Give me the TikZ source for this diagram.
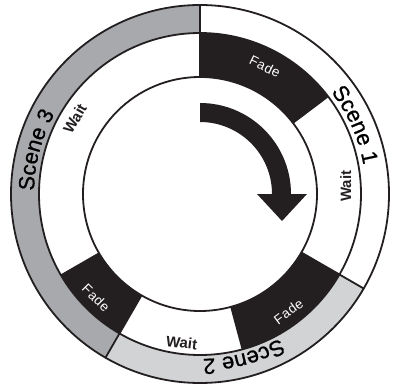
\documentclass[tikz,border=0pt]{standalone}
\usepackage{fontspec}
\setmainfont{Liberation Sans}
\newfontfamily\fadefont[LetterSpace=4]{Liberation Sans}
\newfontfamily\scenefont[FakeBold=0.8]{Liberation Sans}
\usetikzlibrary{decorations.text}
\definecolor{fadeblack}{HTML}{231F20}
\definecolor{scenegray}{HTML}{A7A9AC}
\definecolor{scenelight}{HTML}{D1D3D4}

\begin{document}
\begin{tikzpicture}[x=1pt, y=1pt,
    ringline/.style={line width=1.8pt, draw=fadeblack},
    fadelabel/.style={text=white, font=\fadefont\fontsize{13.5}{13.5}\selectfont, inner sep=0pt},
    waitlabel/.style={text=fadeblack, font=\bfseries\fontsize{15}{15}\selectfont, inner sep=0pt},
    scenetext/.style={decorate, decoration={text along path, text align=center,
        text={|\scenefont\fontsize{22}{22}\selectfont|#1}}}
]
\useasboundingbox (-200,-194) rectangle (193,194);

% Scene ring
\foreach \a/\b/\c in {90/-30/white, -30/-120/scenelight, -120/-270/scenegray}
  \fill[\c] (\a:189) arc[start angle=\a, end angle=\b, radius=189]
    -- (\b:161) arc[start angle=\b, end angle=\a, radius=161] -- cycle;

% Fade segments
\foreach \a/\b in {90/37, -30/-75, -120/-150}
  \fill[fadeblack] (\a:161) arc[start angle=\a, end angle=\b, radius=161]
    -- (\b:117) arc[start angle=\b, end angle=\a, radius=117] -- cycle;

% Rings and borders
\draw[ringline] (0,0) circle[radius=189];
\draw[ringline] (0,0) circle[radius=161];
\draw[ringline] (0,0) circle[radius=117];
\foreach \a in {90, -30, -120}
  \draw[ringline] (\a:117) -- (\a:189);

% Turning arrow
\fill[fadeblack] (90:91) arc[start angle=90, end angle=0, radius=91]
  -- (107,0) -- (82,-27) -- (57,0) -- (72,0)
  arc[start angle=0, end angle=90, radius=72] -- cycle;

% Labels
\node[fadelabel, rotate=-26] (fade1) at (63:143) {Fade};
\node[waitlabel, rotate=90] (wait1) at (3:146) {Wait};
\node[fadelabel, rotate=37] (fade2) at (-53:147) {Fade};
\node[waitlabel, rotate=-7] (wait2) at (-97:150) {Wait};
\node[fadelabel, rotate=-45] (fade3) at (-135:147) {Fade};
\node[waitlabel, rotate=60] (wait3) at (149:146) {Wait};

% Scene names
\path[scenetext={Scene 1}] (74:166) arc[start angle=74, end angle=-26, radius=166];
\path[scenetext={Scene 2}] (-25:165) arc[start angle=-25, end angle=-125, radius=165];
\path[scenetext={Scene 3}] (215:166) arc[start angle=215, end angle=115, radius=166];
\end{tikzpicture}
\end{document}
